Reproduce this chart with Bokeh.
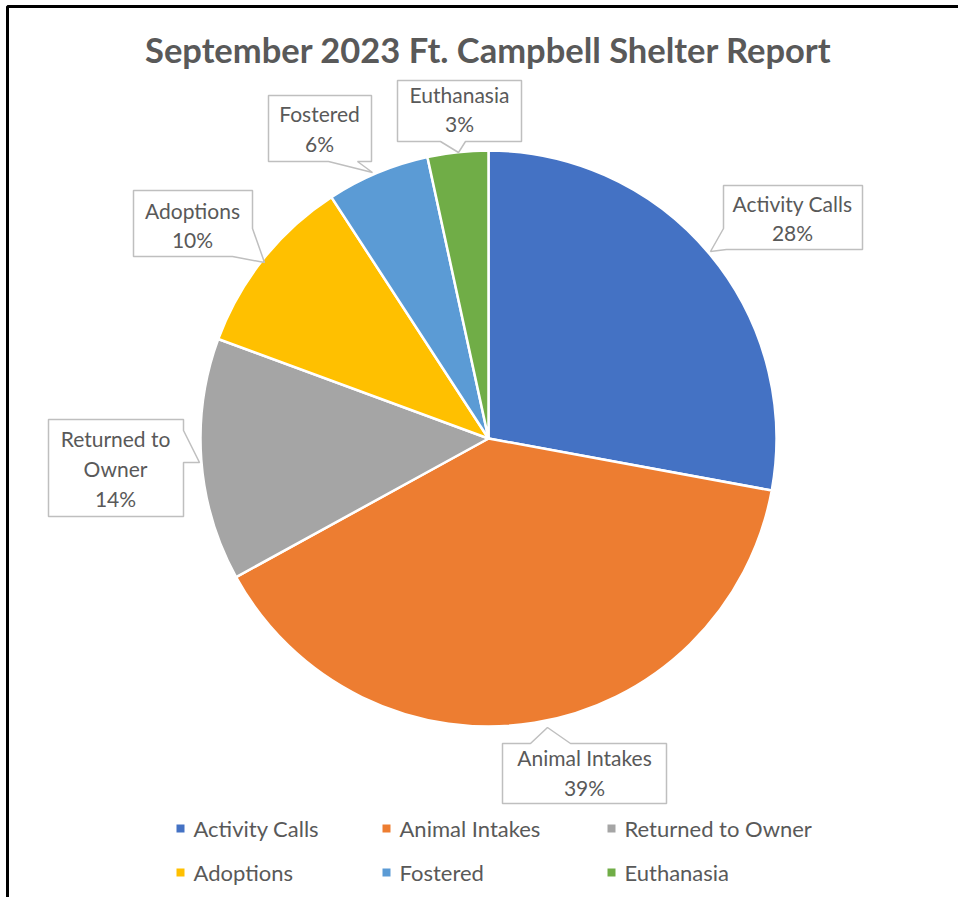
import math
from bokeh.plotting import figure
from bokeh.models import Range1d, ColumnDataSource
from bokeh.core.properties import value
from bokeh.embed import file_html
from bokeh.resources import INLINE

# ---- data ----
categories = ["Activity Calls", "Animal Intakes", "Returned to Owner",
              "Adoptions", "Fostered", "Euthanasia"]
counts = [82, 115, 40, 30, 17, 10]
colors = ["#4472C4", "#ED7D31", "#A5A5A5", "#FFC000", "#5B9BD5", "#70AD47"]
title_text = "September 2023 Ft. Campbell Shelter Report"

W, H = 958, 897
FONT = "Lato"
TXT = "#595959"

def fx(px):
    return px

def fy(py):
    return H - py

p = figure(width=W, height=H, output_backend="svg", toolbar_location=None,
           x_range=Range1d(0, W), y_range=Range1d(0, H),
           x_axis_location=None, y_axis_location=None, min_border=0)
p.grid.visible = False
p.outline_line_color = None
p.background_fill_color = "white"
p.border_fill_color = "white"

# chart border (left and top visible)
p.line([fx(7), fx(7), fx(W)], [0, fy(6), fy(6)], line_color="black", line_width=3)

# ---- pie ----
total = sum(counts)
fr = [c / total for c in counts]
cum = [0.0]
for f in fr:
    cum.append(cum[-1] + f)
start = [math.pi / 2 - 2 * math.pi * cum[i + 1] for i in range(len(fr))]
end = [math.pi / 2 - 2 * math.pi * cum[i] for i in range(len(fr))]
cx, cy, R = fx(488), fy(438), 288
src = ColumnDataSource(dict(start=start, end=end, color=colors, cat=categories))
p.wedge(x=cx, y=cy, radius=R, start_angle="start", end_angle="end",
        direction="anticlock", fill_color="color", line_color="white",
        line_width=2.5, source=src)

# ---- callouts (layout positions) ----
callouts = {
    "Activity Calls": dict(poly=[(723, 185), (862, 185), (862, 249), (726, 249),
                                 (710, 251), (723, 228)],
                           cx=792, lines_y=[203, 232]),
    "Animal Intakes": dict(poly=[(502, 743), (530, 743), (547, 727), (570, 743),
                                 (666, 743), (666, 803), (502, 803)],
                           cx=584, lines_y=[757, 787]),
    "Returned to Owner": dict(poly=[(48, 419), (183, 419), (183, 430), (199, 462),
                                    (183, 462), (183, 516), (48, 516)],
                              cx=115, lines_y=[438, 468, 498]),
    "Adoptions": dict(poly=[(133, 190), (252, 190), (252, 228), (264, 262),
                            (232, 256), (133, 256)],
                      cx=192, lines_y=[210, 239]),
    "Fostered": dict(poly=[(268, 95), (371, 95), (371, 161), (357, 161),
                           (372, 172), (328, 161), (268, 161)],
                     cx=319, lines_y=[113, 143]),
    "Euthanasia": dict(poly=[(397, 80), (521, 80), (521, 141), (465, 141),
                             (458, 152), (440, 141), (397, 141)],
                       cx=459, lines_y=[94, 123]),
}

for cat, f in zip(categories, fr):
    c = callouts[cat]
    xs = [fx(x) for x, _ in c["poly"]]
    ys = [fy(y) for _, y in c["poly"]]
    p.patch(xs, ys, fill_color="white", line_color="#BFBFBF", line_width=1.5)
    if cat == "Returned to Owner":
        lines = ["Returned to", "Owner"]
    else:
        lines = [cat]
    lines = lines + [f"{round(f * 100)}%"]
    p.text(x=[fx(c["cx"])] * len(lines), y=[fy(y) for y in c["lines_y"]], text=lines,
           text_font=value(FONT), text_font_size="21px", text_color=TXT,
           text_align="center", text_baseline="middle")

# ---- title ----
p.text(x=[fx(488)], y=[fy(49)], text=[title_text], text_font=value(FONT),
       text_font_size="34.5px", text_font_style="bold", text_color=TXT,
       text_align="center", text_baseline="middle")

# ---- legend ----
leg_sq_x = [180, 386, 611, 180, 386, 611]
leg_y = [828, 828, 828, 872, 872, 872]
p.scatter(x=[fx(x) for x in leg_sq_x], y=[fy(y) for y in leg_y], marker="square",
          size=8, fill_color=colors, line_color=None)
p.text(x=[fx(x + 13) for x in leg_sq_x], y=[fy(y) for y in leg_y], text=categories,
       text_font=value(FONT), text_font_size="22px", text_color=TXT,
       text_align="left", text_baseline="middle")

open("out.html", "w").write(file_html(p, INLINE))
